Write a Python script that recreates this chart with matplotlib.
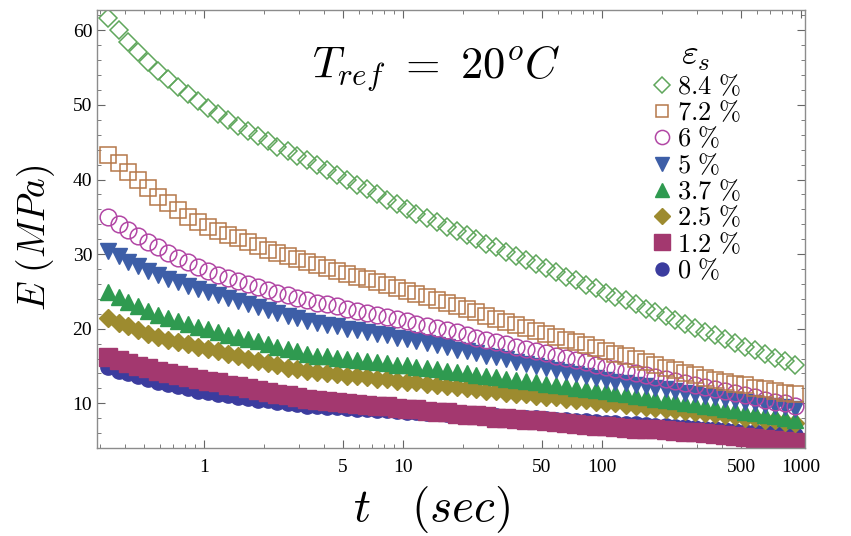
import matplotlib
matplotlib.use("Agg")
import matplotlib.pyplot as plt
from matplotlib.ticker import FixedLocator, MultipleLocator, NullFormatter, FixedFormatter

plt.rcParams['mathtext.fontset'] = 'cm'
plt.rcParams['font.family'] = ['Liberation Serif', 'DejaVu Serif']

# sampling times (s)
t = [0.331, 0.372, 0.417, 0.468, 0.525, 0.589, 0.661, 0.741, 0.832, 0.933,
     1.05, 1.17, 1.32, 1.48, 1.66, 1.86, 2.09, 2.34, 2.63, 2.95,
     3.31, 3.72, 4.17, 4.68, 5.25, 5.89, 6.61, 7.41, 8.32, 9.33,
     10.5, 11.7, 13.2, 14.8, 16.6, 18.6, 20.9, 23.4, 26.3, 29.5,
     33.1, 37.2, 41.7, 46.8, 52.5, 58.9, 66.1, 74.1, 83.2, 93.3,
     105, 117, 132, 148, 166, 186, 209, 234, 263, 295,
     331, 372, 417, 468, 525, 589, 661, 741, 832, 933]

# E (MPa) for each strain level
E_84 = [61.6, 60.0, 58.5, 57.1, 55.8, 54.6, 53.5, 52.4, 51.4, 50.5,
        49.6, 48.8, 48.0, 47.2, 46.5, 45.8, 45.1, 44.4, 43.8, 43.2,
        42.6, 41.9, 41.3, 40.6, 40.0, 39.3, 38.7, 38.0, 37.3, 36.7,
        36.0, 35.4, 34.8, 34.3, 33.7, 33.1, 32.6, 32.0, 31.4, 30.9,
        30.3, 29.8, 29.2, 28.7, 28.1, 27.6, 27.0, 26.5, 25.9, 25.4,
        24.8, 24.3, 23.8, 23.3, 22.7, 22.2, 21.7, 21.2, 20.6, 20.1,
        19.6, 19.1, 18.6, 18.1, 17.6, 17.1, 16.6, 16.1, 15.7, 15.2]
E_72 = [43.3, 42.2, 41.0, 39.9, 38.8, 37.7, 36.8, 35.9, 35.0, 34.3,
        33.6, 33.1, 32.6, 32.1, 31.6, 31.1, 30.6, 30.2, 29.7, 29.3,
        28.9, 28.5, 28.1, 27.8, 27.4, 27.0, 26.6, 26.3, 25.9, 25.5,
        25.1, 24.7, 24.3, 23.8, 23.4, 23.0, 22.6, 22.2, 21.7, 21.3,
        20.9, 20.5, 20.1, 19.7, 19.3, 18.9, 18.5, 18.2, 17.8, 17.4,
        17.0, 16.6, 16.3, 15.9, 15.5, 15.2, 14.8, 14.5, 14.1, 13.8,
        13.4, 13.1, 12.9, 12.6, 12.4, 12.1, 11.9, 11.7, 11.4, 11.2]
E_60 = [35.0, 34.1, 33.2, 32.4, 31.6, 30.9, 30.2, 29.5, 28.9, 28.3,
        27.7, 27.2, 26.8, 26.4, 26.0, 25.6, 25.2, 24.8, 24.5, 24.1,
        23.8, 23.5, 23.3, 23.0, 22.7, 22.4, 22.1, 21.8, 21.6, 21.3,
        21.0, 20.7, 20.4, 20.1, 19.8, 19.5, 19.1, 18.8, 18.5, 18.2,
        17.9, 17.6, 17.3, 17.0, 16.7, 16.4, 16.1, 15.8, 15.5, 15.2,
        14.9, 14.6, 14.4, 14.1, 13.8, 13.5, 13.3, 13.0, 12.7, 12.5,
        12.2, 11.9, 11.6, 11.4, 11.1, 10.8, 10.5, 10.2, 10.0, 9.7]
E_50 = [30.4, 29.7, 29.0, 28.4, 27.8, 27.2, 26.7, 26.2, 25.7, 25.3,
        24.9, 24.5, 24.1, 23.7, 23.3, 22.9, 22.5, 22.1, 21.7, 21.4,
        21.0, 20.8, 20.5, 20.3, 20.0, 19.8, 19.6, 19.3, 19.1, 18.8,
        18.6, 18.3, 18.1, 17.8, 17.5, 17.2, 17.0, 16.7, 16.4, 16.2,
        15.9, 15.6, 15.3, 15.0, 14.7, 14.5, 14.2, 13.9, 13.6, 13.4,
        13.1, 12.9, 12.7, 12.5, 12.3, 12.1, 11.9, 11.7, 11.4, 11.2,
        11.0, 10.8, 10.6, 10.4, 10.2, 10.0, 9.8, 9.7, 9.5, 9.3]
E_37 = [24.9, 24.2, 23.6, 23.0, 22.4, 21.9, 21.4, 21.0, 20.6, 20.2,
        19.9, 19.6, 19.2, 18.9, 18.6, 18.3, 18.0, 17.6, 17.3, 17.0,
        16.6, 16.4, 16.3, 16.1, 16.0, 15.8, 15.7, 15.5, 15.4, 15.2,
        15.1, 14.9, 14.7, 14.6, 14.4, 14.2, 14.0, 13.8, 13.7, 13.5,
        13.3, 13.1, 13.0, 12.8, 12.6, 12.5, 12.3, 12.1, 11.9, 11.8,
        11.6, 11.4, 11.2, 11.0, 10.8, 10.6, 10.5, 10.3, 10.1, 9.9,
        9.7, 9.5, 9.3, 9.1, 8.9, 8.7, 8.5, 8.3, 8.0, 7.8]
E_25 = [21.4, 20.8, 20.3, 19.8, 19.3, 18.9, 18.5, 18.2, 17.9, 17.6,
        17.3, 17.0, 16.6, 16.3, 16.0, 15.7, 15.4, 15.1, 14.8, 14.6,
        14.3, 14.2, 14.0, 13.9, 13.7, 13.6, 13.5, 13.3, 13.2, 13.0,
        12.9, 12.8, 12.6, 12.5, 12.3, 12.2, 12.0, 11.9, 11.7, 11.6,
        11.4, 11.3, 11.2, 11.0, 10.9, 10.8, 10.6, 10.5, 10.4, 10.2,
        10.1, 10.0, 9.8, 9.7, 9.5, 9.4, 9.3, 9.1, 9.0, 8.8,
        8.7, 8.6, 8.4, 8.3, 8.1, 8.0, 7.8, 7.7, 7.5, 7.4]
E_12 = [16.2, 15.8, 15.4, 15.0, 14.7, 14.4, 14.1, 13.8, 13.5, 13.3,
        13.0, 12.8, 12.5, 12.3, 12.0, 11.8, 11.5, 11.3, 11.1, 10.8,
        10.6, 10.5, 10.3, 10.2, 10.1, 9.9, 9.8, 9.7, 9.6, 9.4,
        9.3, 9.2, 9.0, 8.9, 8.8, 8.6, 8.5, 8.4, 8.3, 8.1,
        8.0, 7.9, 7.8, 7.7, 7.6, 7.5, 7.3, 7.2, 7.1, 7.0,
        6.9, 6.8, 6.7, 6.6, 6.5, 6.5, 6.4, 6.3, 6.2, 6.1,
        6.0, 5.9, 5.7, 5.6, 5.5, 5.4, 5.2, 5.1, 5.0, 4.8]
E_00 = [14.9, 14.4, 14.0, 13.6, 13.2, 12.9, 12.6, 12.3, 12.0, 11.7,
        11.5, 11.3, 11.1, 10.9, 10.7, 10.5, 10.4, 10.2, 10.0, 9.9,
        9.7, 9.6, 9.5, 9.5, 9.4, 9.3, 9.2, 9.1, 9.1, 9.0,
        8.9, 8.8, 8.7, 8.7, 8.6, 8.5, 8.5, 8.4, 8.3, 8.3,
        8.2, 8.1, 8.0, 8.0, 7.9, 7.8, 7.7, 7.6, 7.6, 7.5,
        7.4, 7.3, 7.2, 7.2, 7.1, 7.0, 6.9, 6.8, 6.8, 6.7,
        6.6, 6.5, 6.4, 6.3, 6.2, 6.2, 6.1, 6.0, 5.9, 5.8]

labels = ['8.4 %', '7.2 %', '6 %', '5 %', '3.7 %', '2.5 %', '1.2 %', '0 %']

fig = plt.figure(figsize=(8.51, 5.36), dpi=100)
ax = fig.add_axes([0.114, 0.164, 0.832, 0.817])

# drawn from lowest strain up so the higher ones sit on top
h00, = ax.plot(t, E_00, 'o', ms=11, color='#3b3c9e', mec='#3b3c9e', ls='none')
h12, = ax.plot(t, E_12, 's', ms=13.5, color='#a3386f', mec='#a3386f', ls='none')
h25, = ax.plot(t, E_25, 'D', ms=9.5, color='#9d8b2f', mec='#9d8b2f', ls='none')
h37, = ax.plot(t, E_37, '^', ms=12, color='#2f9a50', mec='#2f9a50', ls='none')
h50, = ax.plot(t, E_50, 'v', ms=12, color='#3d5ea7', mec='#3d5ea7', ls='none')
h60, = ax.plot(t, E_60, 'o', ms=12, mfc='none', mec='#b247a5', mew=1.1, ls='none')
h72, = ax.plot(t, E_72, 's', ms=11, mfc='none', mec='#b5784a', mew=1.1, ls='none')
h84, = ax.plot(t, E_84, 'D', ms=9.5, mfc='none', mec='#5fa65c', mew=1.1, ls='none')

ax.set_xscale('log')
ax.set_xlim(0.29, 1050)
ax.set_ylim(4, 62.7)

ax.xaxis.set_major_locator(FixedLocator([1, 5, 10, 50, 100, 500, 1000]))
ax.xaxis.set_major_formatter(FixedFormatter(['1', '5', '10', '50', '100', '500', '1000']))
minors = [0.3, 0.4, 0.5, 0.6, 0.7, 0.8, 0.9, 2, 3, 4, 6, 7, 8, 9,
          20, 30, 40, 60, 70, 80, 90, 200, 300, 400, 600, 700, 800, 900]
ax.xaxis.set_minor_locator(FixedLocator(minors))
ax.xaxis.set_minor_formatter(NullFormatter())
ax.yaxis.set_major_locator(MultipleLocator(10))
ax.yaxis.set_minor_locator(MultipleLocator(2))

for s in ax.spines.values():
    s.set_color('#8c8c8c')
    s.set_linewidth(1.0)
ax.tick_params(which='both', direction='in', top=True, right=True, color='#666666')
ax.tick_params(which='major', length=6, width=0.8, labelsize=14)
ax.tick_params(which='minor', length=3, width=0.6)
ax.tick_params(axis='x', pad=8)

ax.set_xlabel(r'$t\ \ \ (sec)$', fontsize=34)
ax.xaxis.set_label_coords(0.473, -0.082)
ax.xaxis.label.set_va('top')
ax.set_ylabel(r'$E\ (MPa)$', fontsize=27)
ax.yaxis.set_label_coords(-0.057, 0.48)

ax.text(0.48, 0.868, r'$T_{ref}\ =\ 20^{o}C$', transform=ax.transAxes,
        fontsize=32, ha='center', va='center')

leg = ax.legend([h84, h72, h60, h50, h37, h25, h12, h00],
                [r'$%s\ \%%$' % l.split()[0] for l in labels],
                title=r'$\varepsilon_s$', loc='upper right',
                bbox_to_anchor=(0.935, 0.975), frameon=False,
                fontsize=19, title_fontsize=26, handletextpad=0.15,
                labelspacing=0.02, handlelength=0.8, borderpad=0.2,
                markerscale=0.85)

fig.savefig('out.png', dpi=100)
